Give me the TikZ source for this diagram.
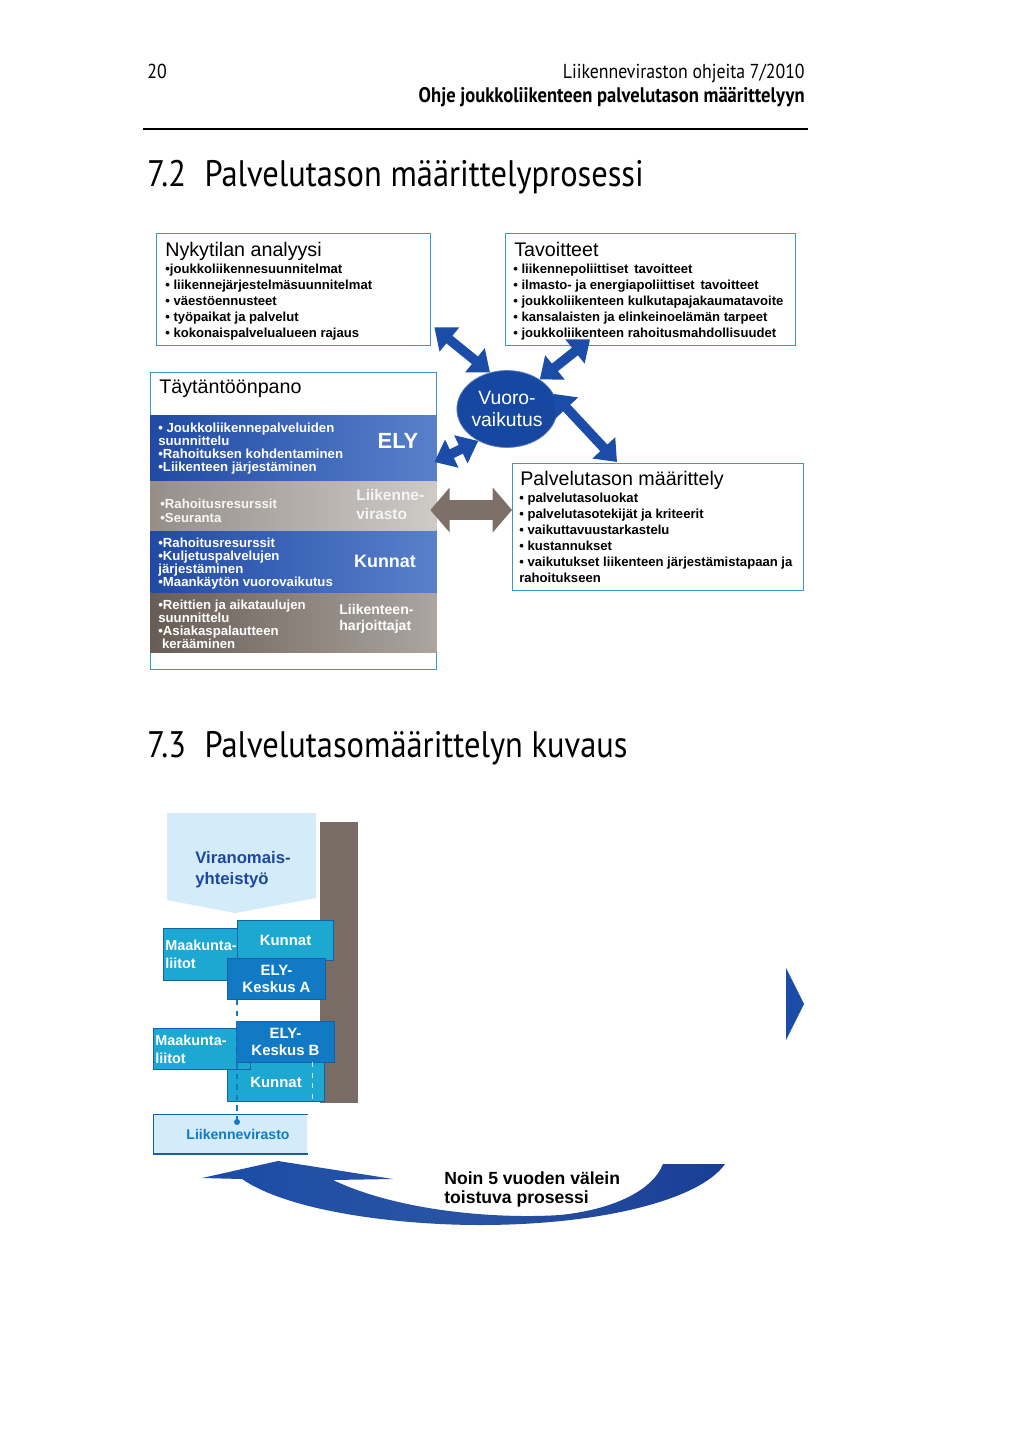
\documentclass[tikz,border=0pt]{standalone}
\usepackage{fontspec}
\setmainfont{Liberation Sans}
\newfontfamily\headfont[FakeStretch=0.88]{PT Sans}
\usepackage{tikz}
\usetikzlibrary{arrows.meta,shapes.geometric,positioning}

\definecolor{frameblue}{RGB}{58,150,205}
\definecolor{arrowblue}{RGB}{26,76,168}
\definecolor{vuoroblue}{RGB}{22,72,162}
\definecolor{arrowgray}{RGB}{125,112,104}
\definecolor{bandblueL}{RGB}{33,74,165}
\definecolor{bandblueR}{RGB}{88,128,202}
\definecolor{bandgrayL}{RGB}{150,143,137}
\definecolor{bandgrayR}{RGB}{206,202,198}
\definecolor{bandbrownL}{RGB}{104,93,85}
\definecolor{bandbrownR}{RGB}{172,165,160}
\definecolor{paleblue}{RGB}{212,236,250}
\definecolor{darktext}{RGB}{28,70,160}
\definecolor{barbrown}{RGB}{120,108,100}
\definecolor{cyanbox}{RGB}{28,168,208}
\definecolor{elybox}{RGB}{18,122,196}
\definecolor{boxedge}{RGB}{22,96,170}
\definecolor{navy}{RGB}{24,62,150}

\tikzset{
  panel/.style={
    draw=frameblue,
    line width=0.8pt,
    fill=white,
    anchor=north west,
    inner sep=0
  },
  ptitle/.style={
    anchor=north west,
    inner sep=0,
    font=\fontsize{11.2pt}{13pt}\selectfont
  },
  plist/.style={
    anchor=north west,
    inner sep=0,
    align=left,
    font=\fontsize{7.45pt}{9.07pt}\selectfont\bfseries
  },
  band/.style={
    anchor=north west,
    inner sep=0,
    minimum width=5.72cm
  },
  bandtxt/.style={
    anchor=north west,
    inner sep=0,
    align=left,
    text=white,
    font=\fontsize{7.5pt}{7.3pt}\selectfont\bfseries
  },
  agency/.style={
    text=white,
    inner sep=0,
    align=left,
    font=\fontsize{8.8pt}{10.6pt}\selectfont\bfseries
  },
  bluearrow/.style={
    draw=arrowblue,
    line width=5.5pt,
    {Triangle[width=17pt,length=11pt]}-{Triangle[width=17pt,length=11pt]}
  },
  grayarrow/.style={
    draw=arrowgray,
    line width=11pt,
    {Triangle[width=25pt,length=11pt]}-{Triangle[width=25pt,length=11pt]}
  },
  orgbox/.style={
    draw=boxedge,
    line width=0.6pt,
    anchor=north west,
    inner sep=0,
    text=white,
    align=center,
    font=\fontsize{8.5pt}{9.8pt}\selectfont\bfseries
  },
  orgtxt/.style={
    anchor=north west,
    inner sep=0,
    align=left,
    text=white,
    font=\fontsize{8.2pt}{10.2pt}\selectfont\bfseries
  },
  head/.style={
    inner sep=0,
    font=\headfont\fontsize{11.5pt}{13pt}\selectfont
  },
}

\begin{document}
\begin{tikzpicture}[x=0.02cm,y=-0.02cm]
    \useasboundingbox[fill=white] (0,0) rectangle (1024,1449);

    % page head
    \node[head, anchor=base west] (pagenum) at (147,79) {20};
    \node[head, anchor=base east] (series) at (805,79) {Liikenneviraston ohjeita 7/2010};
    \node[head, anchor=base east, font=\headfont\bfseries\fontsize{12pt}{13pt}\selectfont] (doctitle) at (805,103) {Ohje joukkoliikenteen palvelutason määrittelyyn};
    \draw[line width=0.7pt] (143,129) -- (808,129);
    \node[head, anchor=base west, font=\headfont\fontsize{21pt}{24pt}\selectfont] (sec72) at (147,187) {7.2\enspace Palvelutason määrittelyprosessi};

    % 7.2
    \node[panel, minimum width=5.48cm, minimum height=2.24cm] (nyky) at (156,233) {};
    \node[ptitle] (nykyt) at (165,242) {Nykytilan analyysi};
    \node[plist] (nykyl) at (165,264) {•joukkoliikennesuunnitelmat\\• liikennejärjestelmäsuunnitelmat\\• väestöennusteet\\• työpaikat ja palvelut\\• kokonaispalvelualueen rajaus};

    \node[panel, minimum width=5.8cm, minimum height=2.24cm] (tavo) at (505,233) {};
    \node[ptitle] (tavot) at (514,242) {Tavoitteet};
    \node[plist] (tavol) at (513,264) {• liikennepoliittiset\, tavoitteet\\• ilmasto- ja energiapoliittiset\, tavoitteet\\• joukkoliikenteen kulkutapajakaumatavoite\\• kansalaisten ja elinkeinoelämän tarpeet\\• joukkoliikenteen rahoitusmahdollisuudet};

    \node[panel, minimum width=5.72cm, minimum height=5.94cm] (tayt) at (150,372) {};
    \node[ptitle] (taytt) at (159,380) {Täytäntöönpano};

    \node[band, minimum height=1.30cm, left color=bandblueL, right color=bandblueR] (ely) at (150,415) {};
    \node[band, minimum height=0.98cm, left color=bandgrayL, right color=bandgrayR] (lvi) at (150,481) {};
    \node[band, minimum height=1.22cm, left color=bandblueL, right color=bandblueR] (kun) at (150,531) {};
    \node[band, minimum height=1.18cm, left color=bandbrownL, right color=bandbrownR] (har) at (150,593) {};

    \node[bandtxt] (elyt) at (158,423) {• Joukkoliikennepalveluiden\\suunnittelu\\•Rahoituksen kohdentaminen\\•Liikenteen järjestäminen};
    \node[agency, font=\fontsize{12.5pt}{14pt}\selectfont\bfseries] (elyn) at (398,441) {ELY};
    \node[bandtxt, text=white!94!gray, font=\fontsize{7.5pt}{8pt}\selectfont\bfseries] (lvit) at (160,499) {•Rahoitusresurssit\\•Seuranta};
    \node[agency, anchor=north west, text=white!92!gray] (lvin) at (356,489) {Liikenne-\\virasto};
    \node[bandtxt] (kunt) at (158,538) {•Rahoitusresurssit\\•Kuljetuspalvelujen\\järjestäminen\\•Maankäytön vuorovaikutus};
    \node[agency, font=\fontsize{10.2pt}{12pt}\selectfont\bfseries] (kunn) at (385,561) {Kunnat};
    \node[bandtxt] (hart) at (158,600) {•Reittien ja aikataulujen\\suunnittelu\\•Asiakaspalautteen\\\ kerääminen};
    \node[agency, anchor=north west, font=\fontsize{8pt}{9.1pt}\selectfont\bfseries] (harn) at (339,604) {Liikenteen-\\harjoittajat};

    \node[panel, minimum width=5.82cm, minimum height=2.54cm] (palv) at (512,463) {};
    \node[ptitle] (palvt) at (520,471) {Palvelutason määrittely};
    \node[plist] (palvl) at (519,493) {• palvelutasoluokat\\• palvelutasotekijät ja kriteerit\\• vaikuttavuustarkastelu\\• kustannukset\\• vaikutukset liikenteen järjestämistapaan ja\\rahoitukseen};

    \node[ellipse, fill=vuoroblue, draw=arrowblue!70!white, minimum width=1.82cm, minimum height=1.54cm, inner sep=0, align=center, text=white, font=\fontsize{11pt}{13pt}\selectfont] (vuoro) at (507,409) {Vuoro-\\vaikutus};

    \draw[bluearrow] ([shift={(3,-19)}]nyky.south east) -- (vuoro.115);
    \draw[bluearrow] ([shift={(85,-7)}]tavo.south west) -- (vuoro.42);
    \draw[bluearrow] (vuoro.228) -- ([shift={(-3,90)}]tayt.north east);
    \draw[bluearrow] (vuoro.18) -- ([shift={(105,-1)}]palv.north west);
    \draw[grayarrow] ([shift={(-7,138)}]tayt.north east) -- ([shift={(0,47)}]palv.north west);

    % 7.3
    \node[head, anchor=base west, font=\headfont\fontsize{21pt}{24pt}\selectfont] (sec73) at (147,757) {7.3\enspace Palvelutasomäärittelyn kuvaus};

    \fill[paleblue] (167,813) -- (316,813) -- (316,898) -- (235,913) -- (167,900) -- cycle;
    \node[anchor=north west, inner sep=0, align=left, text=darktext, font=\fontsize{9.5pt}{11.9pt}\selectfont\bfseries] (viran) at (195,851) {Viranomais-\\yhteistyö};
    \fill[barbrown] (320,822) rectangle (358,1103);

    \node[orgbox, fill=cyanbox, minimum width=1.74cm, minimum height=1.04cm] (maak1) at (163,928) {};
    \node[orgtxt] (maak1t) at (165,940) {Maakunta-\\liitot};
    \node[orgbox, fill=cyanbox, minimum width=1.92cm, minimum height=0.80cm] (kun1) at (237,920) {Kunnat};
    \node[orgbox, fill=elybox, minimum width=1.96cm, minimum height=0.82cm] (elyA) at (227,958) {ELY-\\Keskus A};

    \node[orgbox, fill=cyanbox, minimum width=1.94cm, minimum height=0.78cm] (kun2) at (227,1062) {Kunnat};
    \node[orgbox, fill=cyanbox, minimum width=1.94cm, minimum height=0.82cm] (maak2) at (153,1028) {};
    \node[orgtxt] (maak2t) at (155,1035) {Maakunta-\\liitot};
    \node[orgbox, fill=elybox, minimum width=1.96cm, minimum height=0.82cm] (elyC) at (236,1021) {ELY-\\Keskus B};

    \node[anchor=north west, inner sep=0, fill=paleblue, minimum width=3.08cm, minimum height=0.78cm] (liik) at (153,1114) {};
    \node[inner sep=0, text=elybox, font=\fontsize{8pt}{10pt}\selectfont\bfseries] (liikt) at (238,1134) {Liikennevirasto};
    \draw[boxedge, line width=0.5pt] (liik.north east) -- (liik.north west) -- (liik.south west);
    \draw[boxedge, line width=1.2pt] (liik.south west) -- (liik.south east);

    \coordinate (dot) at (237,1122);
    \draw[elybox, dashed, line width=0.6pt] ([shift={(10,0)}]elyA.south west) -- (dot);
    \draw[white!80!elybox, dashed, line width=0.4pt] ([shift={(-13,0)}]kun2.north east) -- ([shift={(-13,0)}]kun2.south east);
    \fill[elybox] (dot) circle (3);

    \shade[left color=arrowblue, right color=navy, middle color=arrowblue!85!gray]
      (663,1164) .. controls (652,1192) and (610,1210) .. (560,1215)
      .. controls (500,1219) and (400,1212) .. (333,1180)
      -- (393,1179) -- (278,1161) -- (202,1178) -- (242,1179)
      .. controls (290,1212) and (400,1225) .. (480,1225)
      .. controls (600,1225) and (700,1200) .. (725,1164) -- cycle;
    \node[anchor=north west, inner sep=0, align=left, font=\fontsize{10pt}{11.3pt}\selectfont\bfseries] (noin) at (444,1171) {Noin 5 vuoden välein\\toistuva prosessi};

    \fill[arrowblue] (786,968) -- (804,1004) -- (786,1040) -- cycle;
\end{tikzpicture}
\end{document}
